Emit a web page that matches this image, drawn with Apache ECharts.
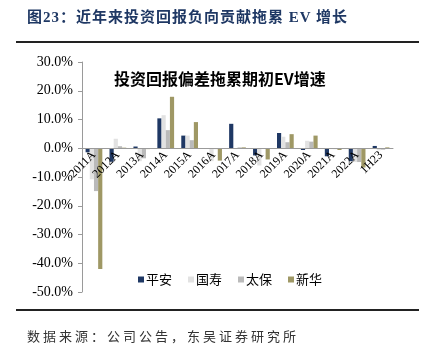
<!DOCTYPE html>
<html>
<head>
<meta charset="utf-8">
<script src="https://cdn.jsdelivr.net/npm/echarts@6/dist/echarts.min.js"></script>
<style>
    body {margin: 0; background: #fff;}
    #wrap {position: relative; width: 428px; height: 352px;}
    #chart {width: 428px; height: 352px;}
    .head {position: absolute; left: 27px; top: 5px; font: bold 15px "Liberation Serif", "Noto Sans CJK SC", serif;
        color: #1f3864; letter-spacing: 1px; white-space: nowrap;}
    .foot {position: absolute; left: 27px; top: 326px; font: 13px "Liberation Serif", "Noto Sans CJK SC", serif;
        color: #333; letter-spacing: 3px; white-space: nowrap;}
</style>
</head>
<body>
<div id="wrap">
    <div id="chart"></div>
    <div class="head">图23：近年来投资回报负向贡献拖累 EV 增长</div>
    <div class="foot">数据来源：公司公告，东吴证券研究所</div>
</div>
<script>
    const categories = ['2011A', '2012A', '2013A', '2014A', '2015A', '2016A', '2017A', '2018A', '2019A', '2020A', '2021A', '2022A', '1H23'];
    const pingan = [-1.4, -4.7, 0.6, 10.4, 4.4, -0.2, 8.5, -2.5, 5.3, -0.6, -2.8, -4.5, 0.8];
    const guoshou = [-10.8, 3.3, -4.5, 11.5, 4.4, -4.5, -0.3, -6.0, 4.0, 2.6, -0.3, -4.8, -0.7];
    const taibao = [-14.9, 0.7, -3.5, 6.3, 2.8, -0.3, 0.3, -0.2, 2.1, 2.3, -0.3, -4.8, -0.5];
    const xinhua = [-42.0, 0.2, -0.3, 17.9, 9.1, -4.3, 0.3, -3.9, 4.9, 4.4, -0.6, -6.7, 0.3];
    const seriesNames = ['平安', '国寿', '太保', '新华'];

    let colors = ['#1f3864', '#e2e2e2', '#bababa', '#9f9865'];
    const serif = '"Liberation Serif", "Noto Sans CJK SC", serif';
    const sans = '"Noto Sans CJK SC", sans-serif';

    // 网格 top 62 / bottom 60 => 绘图区高度 230，0 刻度距底部 50/80
    const gridTop = 62, gridBottom = 60, plotH = 352 - gridTop - gridBottom;
    const zeroOffset = plotH * 50 / 80;

    let chart = echarts.init(document.getElementById('chart'));
    chart.setOption({
        animation: false,
        color: colors,
        grid: {left: 82, right: 35, top: gridTop, bottom: gridBottom},
        legend: {
            data: seriesNames,
            left: 133,
            top: 268,
            icon: 'rect',
            itemWidth: 6,
            itemHeight: 6,
            itemGap: 16,
            textStyle: {fontFamily: sans, fontSize: 13, color: '#000', padding: [0, 0, 0, -3]}
        },
        graphic: [
            {type: 'line', shape: {x1: 16, y1: 42, x2: 419, y2: 42}, style: {stroke: '#222', lineWidth: 2}},
            {type: 'line', shape: {x1: 16, y1: 310, x2: 419, y2: 310}, style: {stroke: '#222', lineWidth: 2}},
            {
                type: 'text', left: 114, top: 71,
                style: {text: '投资回报偏差拖累期初EV增速', font: 'bold 16px ' + sans, fill: '#000'}
            }
        ],
        xAxis: {
            type: 'category',
            data: categories,
            offset: -zeroOffset,
            z: 5,
            axisLine: {onZero: false, lineStyle: {color: '#9a9a9a'}},
            axisTick: {length: 4, lineStyle: {color: '#9a9a9a'}},
            axisLabel: {
                rotate: 45, margin: 5, interval: 0,
                fontFamily: serif, fontSize: 12, color: '#000'
            }
        },
        yAxis: {
            type: 'value',
            min: -50,
            max: 30,
            interval: 10,
            splitLine: {show: false},
            axisLine: {show: true, lineStyle: {color: '#9a9a9a'}},
            axisTick: {show: true, length: 4, lineStyle: {color: '#9a9a9a'}},
            axisLabel: {
                margin: 9,
                fontFamily: serif, fontSize: 14, color: '#000',
                formatter: v => v.toFixed(1) + '%'
            }
        },
        series: [
            {name: seriesNames[0], type: 'bar', data: pingan, barGap: '0%', barCategoryGap: '30%'},
            {name: seriesNames[1], type: 'bar', data: guoshou, barGap: '0%', barCategoryGap: '30%'},
            {name: seriesNames[2], type: 'bar', data: taibao, barGap: '0%', barCategoryGap: '30%'},
            {name: seriesNames[3], type: 'bar', data: xinhua, barGap: '0%', barCategoryGap: '30%'}
        ]
    });
</script>
</body>
</html>
